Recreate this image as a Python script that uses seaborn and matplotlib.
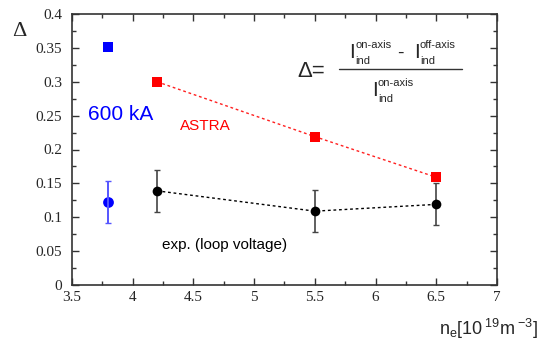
import numpy as np
import pandas as pd
import seaborn as sns
import matplotlib.pyplot as plt
from matplotlib.ticker import MultipleLocator

# ---- data ----
ne_exp = [4.2, 5.5, 6.5]
delta_exp = [0.139, 0.109, 0.119]
err_exp = [0.031, 0.031, 0.031]

ne_astra = [4.2, 5.5, 6.5]
delta_astra = [0.300, 0.219, 0.159]

ne_600_exp = [3.8]
delta_600_exp = [0.122]
err_600_exp = [0.031]

ne_600_astra = [3.8]
delta_600_astra = [0.352]

xticks = [3.5, 4, 4.5, 5, 5.5, 6, 6.5, 7]
xtick_labels = ["3.5", "4", "4.5", "5", "5.5", "6", "6.5", "7"]
yticks = [0, 0.05, 0.1, 0.15, 0.2, 0.25, 0.3, 0.35, 0.4]
ytick_labels = ["0", "0.05", "0.1", "0.15", "0.2", "0.25", "0.3", "0.35", "0.4"]

df_exp = pd.DataFrame({"ne": ne_exp, "delta": delta_exp})
df_astra = pd.DataFrame({"ne": ne_astra, "delta": delta_astra})

sns.set_style("ticks")
plt.rcParams["font.family"] = ["Liberation Sans", "DejaVu Sans"]
plt.rcParams["mathtext.fontset"] = "custom"
plt.rcParams["mathtext.rm"] = "Liberation Sans"

W, H = 540, 341
fig = plt.figure(figsize=(W / 100, H / 100), dpi=100)
L, R, T, B = 72, 497, 14, 285
ax = fig.add_axes([L / W, 1 - B / H, (R - L) / W, (B - T) / H])


def fp(x, y):
    return x / W, 1 - y / H


# ASTRA line
sns.lineplot(data=df_astra, x="ne", y="delta", ax=ax, color="#ff2020",
             linestyle=(0, (2, 2)), linewidth=1.0, marker="s", markersize=6.5,
             markeredgewidth=0, markerfacecolor="red")
# experimental line
ax.errorbar(ne_exp, delta_exp, yerr=err_exp, fmt="none", ecolor="#444444",
            elinewidth=1.2, capsize=2.5, capthick=1.0)
sns.lineplot(data=df_exp, x="ne", y="delta", ax=ax, color="black",
             linestyle=(0, (2, 2)), linewidth=1.0, marker="o", markersize=7,
             markeredgewidth=0)
# 600 kA
ax.errorbar(ne_600_exp, delta_600_exp, yerr=err_600_exp, fmt="none",
            ecolor="#5555ff", elinewidth=1.4, capsize=2.5, capthick=1.0)
sns.scatterplot(x=ne_600_exp, y=delta_600_exp, ax=ax, color="blue", s=60,
                marker="o", linewidth=0)
sns.scatterplot(x=ne_600_astra, y=delta_600_astra, ax=ax, color="blue", s=50,
                marker="s", linewidth=0)

ax.set_xlim(3.5, 7)
ax.set_ylim(0, 0.4)
ax.set_xticks(xticks)
ax.set_xticklabels(xtick_labels)
ax.set_yticks(yticks)
ax.set_yticklabels(ytick_labels)
ax.xaxis.set_minor_locator(MultipleLocator(0.25))
ax.yaxis.set_minor_locator(MultipleLocator(0.025))
ax.tick_params(which="both", direction="in", top=True, right=True,
               color="#333333", width=1.0)
ax.tick_params(which="major", length=5, labelsize=11)
ax.tick_params(axis="x", which="major", pad=4)
ax.tick_params(axis="y", which="major", pad=7)
ax.tick_params(which="minor", length=3)
for lab in ax.get_xticklabels() + ax.get_yticklabels():
    lab.set_family(["Liberation Serif", "DejaVu Serif"])
for s in ax.spines.values():
    s.set_linewidth(1.2)
    s.set_color("#333333")
ax.set_xlabel("")
ax.set_ylabel("")

# labels
fig.text(*fp(19, 31), "\u0394", fontsize=16, ha="center", va="center",
         family=["Liberation Serif", "DejaVu Serif"])
fig.text(*fp(538, 335), r"n$_\mathregular{e}$[10$\,^\mathregular{19}$m$\,^\mathregular{-3}$]",
         fontsize=13, ha="right", va="baseline")
fig.text(*fp(88, 120), "600 kA", fontsize=15, color="blue", va="baseline")
fig.text(*fp(180, 130), "ASTRA", fontsize=11, color="red", va="baseline")
fig.text(*fp(162, 249), "exp. (loop voltage)", fontsize=11, color="black",
         va="baseline")

# formula
fig.text(*fp(297, 77), "\u0394=", fontsize=16, va="baseline")
fig.add_artist(plt.Line2D([339 / W, 462 / W], [1 - 69 / H, 1 - 69 / H],
                          color="#333333", linewidth=1.0))


def ipiece(x, ybase, sup):
    fig.text(*fp(x, ybase), "I", fontsize=15, va="baseline")
    fig.text(*fp(x + 6, ybase - 10), sup, fontsize=8, va="baseline")
    fig.text(*fp(x + 6, ybase + 6), "ind", fontsize=8, va="baseline")


ipiece(349, 58, "on-axis")
fig.text(*fp(397, 58), "-", fontsize=14, va="baseline")
ipiece(414, 58, "off-axis")
ipiece(372, 96, "on-axis")

fig.savefig("out.png", dpi=100)
